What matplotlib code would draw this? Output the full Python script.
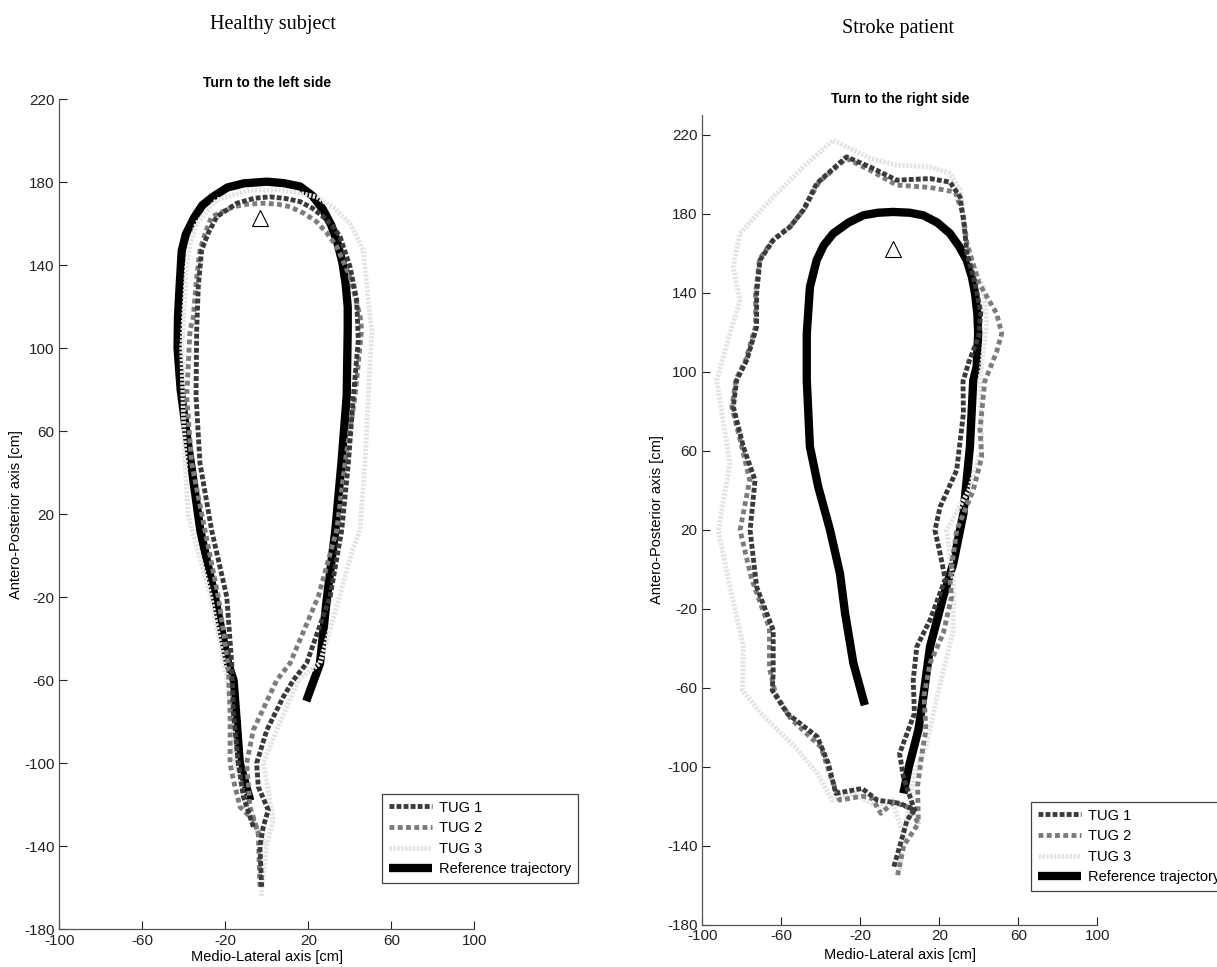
import matplotlib
matplotlib.use("Agg")
import matplotlib.pyplot as plt

plt.rcParams['font.family'] = ['Liberation Sans', 'DejaVu Sans']
plt.rcParams['axes.unicode_minus'] = False

# ---------------- healthy subject (turn to the left side) ----------------
ref_h_x = [-8, -13, -15, -16, -18.6, -25, -32, -35.5, -39, -41.5, -43, -42.8, -42, -41, -39, -35, -31, -26, -19, -11, 0, 8, 16, 22, 27, 31, 34, 36.5, 38, 39, 39, 38.5, 36, 33, 29, 25.6, 19]
ref_h_y = [-118, -100, -73, -60, -52, -20, 12, 37, 61, 80, 100, 115, 130, 147, 155, 163, 169, 173, 177.5, 179.5, 180.3, 179.6, 178, 173.5, 167, 159.5, 151, 141, 131, 120, 109, 77, 45, 12, -20, -52, -70]

tug1_h_x = [-6.5, -11.3, -13.7, -16.1, -16.9, -19.3, -26.6, -32.2, -34.1, -33.8, -33, -31.4, -28, -24.1, -14.5, -6, 1.5, 9, 16, 22, 27.2, 32, 35.3, 40.1, 43.3, 44.1, 41.7, 39.3, 36.1, 30.5, 19.2, 12.8, 8, 0, -4.9, -4.1, 0.7, -1.7, -3.3, -2.5]
tug1_h_y = [-130.6, -116, -100, -75.9, -51.8, -19.7, 12.4, 44.6, 76.7, 108.8, 130, 147.4, 156, 163.4, 169.9, 172.3, 173, 172.2, 170.7, 167.5, 163.4, 158.5, 153.8, 139.3, 123.3, 104, 76.7, 44.6, 12.4, -19.7, -51.8, -59.9, -67.9, -84, -100, -111.3, -122.5, -130.6, -140.2, -159.5]

tug2_h_x = [-3.3, -4.1, -6.5, -12.9, -16.1, -17.7, -17.7, -18.6, -23.4, -29.8, -36.2, -38.6, -37, -35.4, -34, -32.2, -29.5, -26.6, -16.1, -9, -1.7, 5, 11.2, 18, 24, 29, 33.7, 40.1, 45, 45.7, 42.5, 37.7, 33.7, 24.8, 11.2, 4.8, -6.5, -9.7, -8.1, -4.1]
tug2_h_y = [-159.5, -133.7, -127.3, -121, -108, -100, -75.9, -51.8, -19.7, 12.4, 44.6, 76.7, 108.8, 115, 132, 147.4, 156, 163.4, 168.2, 169.5, 169.9, 169.5, 168.2, 165, 161, 155.5, 149, 134.5, 115.2, 108.8, 76.7, 44.6, 12.4, -19.7, -51.8, -59.9, -84, -100, -121, -133.7]

tug3_h_x = [-2.7, -0.1, 3.1, 1, -1.7, 4.8, 15.2, 25.6, 35, 41, 44.9, 47.3, 48.9, 50.6, 49.7, 46.5, 40.1, 32, 24, 8, -8.1, -24.1, -33.8, -37, -38.6, -41, -40, -38, -27, -19, -15, -10, -4, -0.1]
tug3_h_y = [-164, -140, -127.3, -115, -100, -84, -59.9, -51.8, -20, 2, 12.4, 44.6, 76.7, 108.8, 115, 147.4, 160.2, 168, 173, 176.3, 176.3, 171.5, 160.2, 150, 139.3, 100, 60, 20, -20, -60, -100, -120, -133, -140]

# ---------------- stroke patient (turn to the right side) ----------------
ref_s_x = [-17.7, -23.5, -27.7, -30.3, -35.3, -41.3, -45.5, -47.1, -47.1, -45.5, -42.1, -38.5, -33.7, -26, -18.5, -11, -3.3, 5, 11.9, 19, 25.4, 30, 33.9, 36.5, 38.1, 39.3, 39.7, 38.9, 37.2, 35.5, 32.2, 27.1, 22, 15.3, 11.9, 9.4, 4.6, 1.8]
ref_s_y = [-68.9, -47.7, -22.4, -2.2, 19.7, 41.7, 61.9, 95.7, 119.3, 142.9, 156.5, 164, 170, 175.5, 179.2, 180.5, 180.9, 180.5, 179.2, 175.5, 170, 163.5, 156.5, 148, 139.6, 129, 119.3, 102.4, 95.7, 61.9, 28.2, 2.9, -14, -39.3, -64.7, -81.5, -100.1, -113.6]

tug1_s_x = [-3, -0.1, 3.7, 7.4, -0.1, -11.5, -19.1, -32.4, -36.2, -41.8, -57, -64.6, -64.1, -64.1, -72.5, -75.8, -73.3, -79.2, -84.3, -82.6, -77.5, -72.5, -72.5, -70.8, -64.1, -55.6, -48.9, -42.1, -27, -15.1, -1.6, 15.3, 25.4, 30.5, 32.5, 34, 38, 41, 40, 35, 32, 32.2, 28.8, 20.4, 17.8, 20.4, 23, 15.3, 8.6, 6.8, 7.4, 3, -0.1, 1.8, 7.4]
tug1_s_y = [-150.7, -140.6, -127.1, -122, -118.6, -117, -111.1, -113.6, -98.4, -84.9, -73.1, -61.3, -52.8, -30.9, -9, 19.7, 45.1, 61.9, 82.2, 95.7, 105.8, 122.7, 139.6, 156.5, 166.6, 173.3, 181.8, 195.3, 208.8, 203.7, 197, 197.8, 196, 188.5, 175, 160, 145, 130, 118, 105, 95, 78.8, 50.1, 31.5, 19.7, 7.9, -5, -25.8, -39.3, -56.2, -73.1, -85, -93.4, -105.2, -122]

tug2_s_x = [-1.1, 2, 9.4, 5, -3, -9.6, -14, -19.1, -30.4, -35, -40, -55, -63, -66, -66, -75, -80.9, -76, -80, -85, -83, -78, -73, -73, -71, -64, -55, -48, -41, -27, -15, -1.6, 15.3, 28, 32, 34, 40, 49, 51.6, 49, 43, 40.6, 41.5, 37.2, 28.8, 25.4, 26.2, 22, 15.3, 12.3, 13.2, 11.2, 9, 9.4]
tug2_s_y = [-155, -140, -128.8, -121, -118, -123.7, -116, -115, -117, -105, -90, -76, -63, -50, -30, -5, 19.7, 45, 62, 82, 96, 106, 123, 140, 157, 167, 174, 183, 196, 208, 202, 194.5, 193.3, 191, 180, 165, 145, 129.5, 119.3, 110, 95, 70.4, 56.9, 40, 19.7, -5.6, -14, -32.5, -47.7, -64, -81.5, -93.4, -110, -128.8]

tug3_s_x = [-0.1, 2, -4, -11.5, -22.9, -34.2, -41.8, -53.2, -70.3, -79.7, -79.2, -86, -91.9, -86, -92.7, -86, -81, -84.3, -81, -65.7, -48.9, -33.7, -15, -1.6, 15.3, 25.4, 30.5, 33.9, 42.3, 44, 40.6, 41.5, 35, 23.7, 27.1, 27.1, 20, 13.2, 7.4, 2]
tug3_s_y = [-152.4, -135, -117, -120.4, -113.6, -117, -103.4, -90, -73.1, -61.3, -39.3, -9, 19.7, 53.5, 95.7, 119.3, 136.2, 153.1, 170, 186.8, 203.7, 217.2, 208, 204.6, 203.7, 200.4, 192, 161.5, 142.9, 125, 95.7, 62, 40, 19.7, -5.6, -31.1, -60, -90, -103.5, -135]

turn_h = (-3.3, 163)
turn_s = (-3.3, 162)

x_ticks = [-100, -60, -20, 20, 60, 100]
y_ticks = [-180, -140, -100, -60, -20, 20, 60, 100, 140, 180, 220]

W, H = 1217, 967


def px_box(l, t, r, b):
    return [l / W, (H - b) / H, (r - l) / W, (b - t) / H]


def draw_panel(ax, ref, t1, t2, t3, turn, ylim, title, legend_px):
    lr, = ax.plot(ref[0], ref[1], color='black', lw=6, solid_capstyle='butt', solid_joinstyle='round',
                  zorder=2, label='Reference trajectory')
    l3, = ax.plot(t3[0], t3[1], color='#e3e3e3', lw=3.5, dashes=(0.5, 0.3), dash_capstyle='butt', zorder=3, label='TUG 3')
    l2, = ax.plot(t2[0], t2[1], color='#7c7c7c', lw=3.5, dashes=(1.0, 0.7), dash_capstyle='butt', zorder=4, label='TUG 2')
    l1, = ax.plot(t1[0], t1[1], color='#3a3a3a', lw=3.5, dashes=(1.0, 0.45), dash_capstyle='butt', zorder=5, label='TUG 1')
    ax.plot([turn[0]], [turn[1]], marker='^', ms=12, mfc='none', mec='black', mew=0.8, ls='none', zorder=6)

    ax.set_xlim(-100, 100)
    ax.set_ylim(*ylim)
    ax.set_xticks(x_ticks)
    ax.set_yticks(y_ticks)
    ax.tick_params(direction='in', length=6, width=0.8, labelsize=11, colors='#222222')
    for s in ['top', 'right']:
        ax.spines[s].set_visible(False)
    for s in ['left', 'bottom']:
        ax.spines[s].set_color('#555555')
        ax.spines[s].set_linewidth(0.9)

    h = ax.get_position().height * H
    ax.text(0.5, 1.0 + 16 / h, title, transform=ax.transAxes, ha='center', va='center',
            fontsize=10, fontweight='bold')
    ax.set_xlabel('Medio-Lateral axis [cm]', fontsize=10.5)
    ax.set_ylabel('Antero-Posterior axis [cm]', fontsize=10.5)

    lx, ly = legend_px
    leg = ax.legend(handles=[l1, l2, l3, lr], loc='upper left', bbox_to_anchor=(lx / W, 1 - ly / H),
                    bbox_transform=fig.transFigure, borderaxespad=0, fontsize=10.5,
                    handlelength=3.0, handletextpad=0.45, labelspacing=0.45, borderpad=0.45,
                    fancybox=False, framealpha=1)
    leg.get_frame().set_edgecolor('#444444')
    leg.get_frame().set_linewidth(0.9)


fig = plt.figure(figsize=(W / 100, H / 100), dpi=100)

ax1 = fig.add_axes(px_box(59.3, 99.3, 474.3, 929.3))
draw_panel(ax1, (ref_h_x, ref_h_y), (tug1_h_x, tug1_h_y), (tug2_h_x, tug2_h_y), (tug3_h_x, tug3_h_y),
           turn_h, (-180, 220), 'Turn to the left side', (382, 794))
ax1.xaxis.set_label_coords(0.5, -21 / 830)
ax1.yaxis.set_label_coords(-36 / 415, 0.5)

ax2 = fig.add_axes(px_box(702.3, 115, 1097.3, 924.5))
draw_panel(ax2, (ref_s_x, ref_s_y), (tug1_s_x, tug1_s_y), (tug2_s_x, tug2_s_y), (tug3_s_x, tug3_s_y),
           turn_s, (-180, 230), 'Turn to the right side', (1031, 802))
ax2.xaxis.set_label_coords(0.5, -24 / 809.5)
ax2.yaxis.set_label_coords(-38 / 395, 0.5)

fig.text(273 / W, 1 - 24 / H, 'Healthy subject', ha='center', va='center',
         family=['Liberation Serif', 'DejaVu Serif'], fontsize=14.5)
fig.text(898 / W, 1 - 28 / H, 'Stroke patient', ha='center', va='center',
         family=['Liberation Serif', 'DejaVu Serif'], fontsize=14.5)

fig.savefig('out.png', dpi=100, facecolor='white')
